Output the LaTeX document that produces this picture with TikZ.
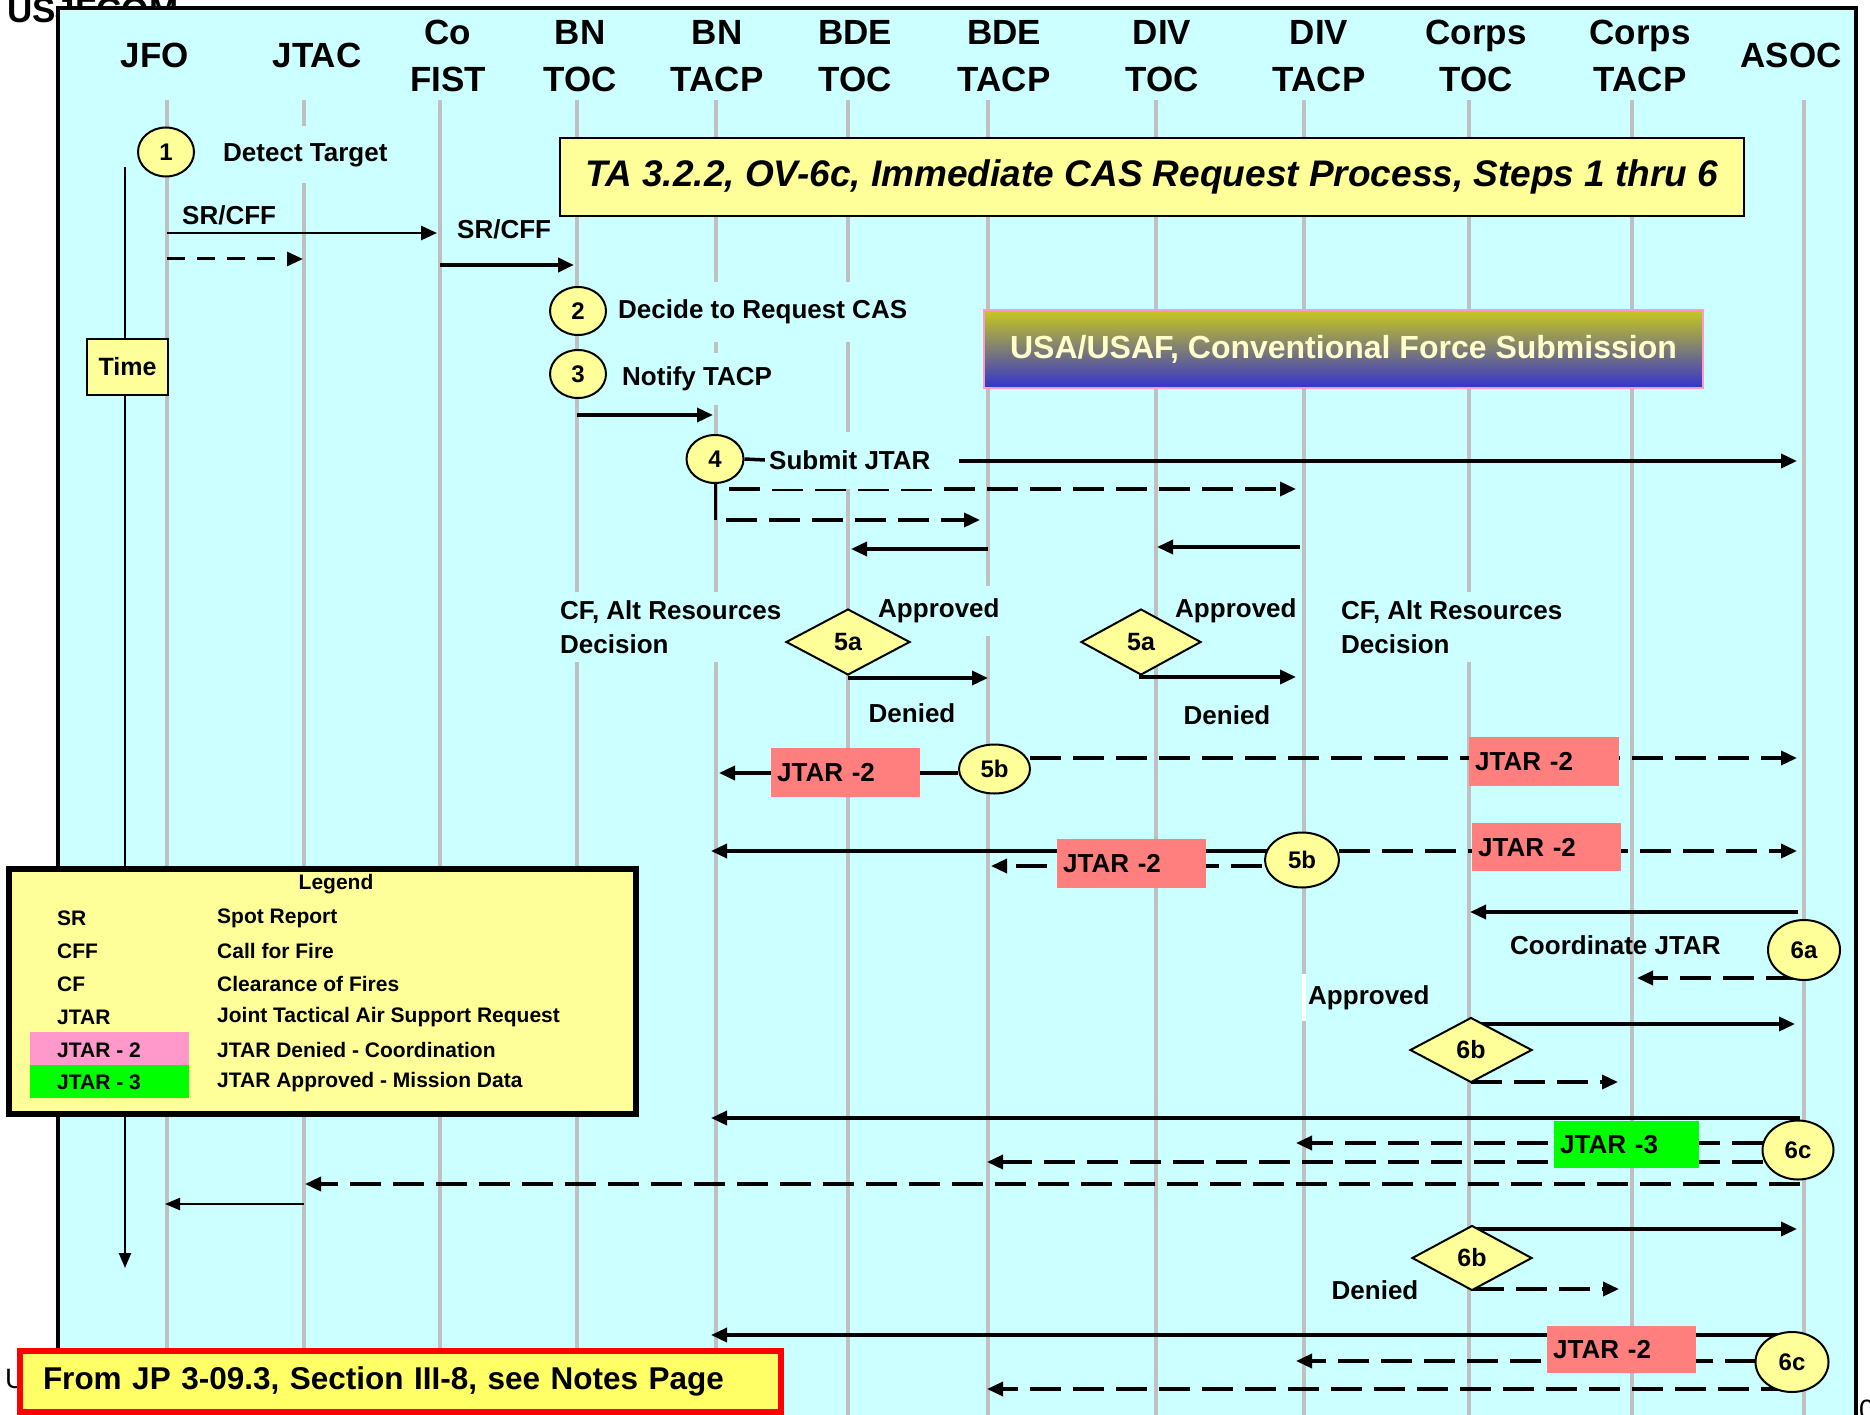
\documentclass[tikz,border=0pt]{standalone}
\usepackage{fontspec}
\setmainfont{Liberation Sans}
\usetikzlibrary{arrows.meta,shapes.geometric}
\definecolor{bgc}{HTML}{CCFFFF}
\definecolor{yel}{HTML}{FFFF99}
\definecolor{salm}{HTML}{FF7F7F}
\definecolor{grn}{HTML}{00FF00}
\definecolor{pnk}{HTML}{FF99CC}
\definecolor{fyel}{HTML}{FFFF66}
\definecolor{lgrey}{HTML}{C0C0C0}
\definecolor{olv}{HTML}{C8C820}
\definecolor{mgr}{HTML}{9898A4}
\definecolor{blu}{HTML}{3333CC}
\definecolor{usatxt}{HTML}{FFFFCC}
\newcommand\fHdr{\fontsize{35}{47}\selectfont\bfseries}
\newcommand\fLbl{\fontsize{26}{34.5}\selectfont\bfseries}
\newcommand\fTitle{\fontsize{37}{44}\selectfont\bfseries\itshape}
\newcommand\fUsa{\fontsize{32}{38}\selectfont\bfseries}
\newcommand\fNum{\fontsize{24}{28}\selectfont\bfseries}
\newcommand\fDia{\fontsize{25}{30}\selectfont\bfseries}
\newcommand\fLeg{\fontsize{21}{25}\selectfont\bfseries}
\newcommand\fFoot{\fontsize{31.5}{38}\selectfont\bfseries}
\newcommand\fTime{\fontsize{25}{30}\selectfont\bfseries}
\newcommand\fTop{\fontsize{35}{42}\selectfont\bfseries}
\newcommand\fFrag{\fontsize{28}{30}\selectfont}
\pgfdeclarelayer{lzero}
\pgfdeclarelayer{lone}
\pgfdeclarelayer{ltwo}
\pgfsetlayers{lzero,lone,ltwo,main}
\begin{document}
\begin{tikzpicture}[x=1pt,y=-1pt,
  lifeline/.style={draw=lgrey, line width=3.5pt},
  conn/.style={line width=3.5pt},
  arr/.style={conn, -{Triangle[length=16pt,width=14pt]}},
  darr/.style={arr, dash pattern=on 31pt off 12pt},
  tarr/.style={line width=2.2pt, -{Triangle[length=15pt,width=12pt]}},
  lbl/.style={inner sep=0pt, font=\fLbl},
  flbl/.style={lbl, fill=bgc, inner xsep=2pt},
  circ/.style={ellipse, draw, line width=2pt, fill=yel, inner sep=0pt, font=\fNum},
  dia/.style={diamond, draw, line width=2pt, fill=yel, inner sep=0pt, font=\fDia},
  jbox/.style={rectangle, inner xsep=6pt, inner ysep=0pt, text width=#1, align=left, font=\fLbl, fill=salm, anchor=north west},
  hdr/.style={inner sep=0pt, font=\fHdr},
  hdr2/.style={hdr, align=center, anchor=north},
  leg/.style={inner sep=0pt, font=\fLeg, anchor=west}
]
\useasboundingbox (0,0) rectangle (1870,1415);

% ---------- bottom layer: stray texts and frame
\begin{pgfonlayer}{lzero}
\node[anchor=base west, inner sep=0pt, font=\fTop] (usj) at (7,23) {USJFCOM};
\node[anchor=base west, inner sep=0pt, font=\fFrag] (ufrag) at (5,1388) {U};
\node[anchor=base west, inner sep=0pt, font=\fFrag] (zfrag) at (1859,1419) {0};
\draw[line width=3.5pt, fill=bgc] (58,8) rectangle (1856,1440);
\end{pgfonlayer}

% ---------- lifelines
\begin{pgfonlayer}{lone}
\foreach \n/\x in {jfo/167, jtac/304, cofist/440, bntoc/577, bntacp/716, bdetoc/848, bdetacp/988, divtoc/1156, divtacp/1304, corpstoc/1469, corpstacp/1632, asoc/1804}{
  \coordinate (L-\n) at (\x,100);
  \draw[lifeline] (L-\n) -- (\x,1440);
}
\draw[white, line width=3.5pt] (1304,974) -- (1304,1021);
\end{pgfonlayer}

% ---------- headers
\node[hdr, anchor=base] (h-jfo) at (155,68) {JFO};
\node[hdr, anchor=base] (h-jtac) at (317,68) {JTAC};
\node[hdr2] (h-cofist) at (448,20) {Co\\FIST};
\node[hdr2] (h-bntoc) at (580,20) {BN\\TOC};
\node[hdr2] (h-bntacp) at (717,20) {BN\\TACP};
\node[hdr2] (h-bdetoc) at (855,20) {BDE\\TOC};
\node[hdr2] (h-bdetacp) at (1004,20) {BDE\\TACP};
\node[hdr2] (h-divtoc) at (1162,20) {DIV\\TOC};
\node[hdr2] (h-divtacp) at (1319,20) {DIV\\TACP};
\node[hdr2] (h-corpstoc) at (1476,20) {Corps\\TOC};
\node[hdr2] (h-corpstacp) at (1640,20) {Corps\\TACP};
\node[hdr, anchor=base] (h-asoc) at (1791,68) {ASOC};

% ---------- title boxes
\node[draw, line width=2pt, fill=yel, minimum width=1184, minimum height=78, inner sep=0pt, font=\fTitle] (title) at (1152,177) {TA 3.2.2, OV-6c, Immediate CAS Request Process, Steps 1 thru 6};
\node[draw=pnk, line width=2.5pt, top color=olv, middle color=mgr, bottom color=blu, minimum width=719, minimum height=78, inner sep=0pt, font=\fUsa, text=usatxt] (usa) at (1343.5,349) {USA/USAF, Conventional Force Submission};

% ---------- time axis
\node[draw, line width=1.5pt, fill=yel, minimum width=81, minimum height=56, inner sep=0pt, font=\fTime] (time) at (127.5,367) {Time};

% ---------- labels
\node[flbl, anchor=west, minimum height=57] (lDetect) at (221,155) {Detect Target};
\node[lbl, anchor=west] (lsr1) at (182,215) {SR/CFF};
\node[lbl, anchor=west] (lsr2) at (457,229) {SR/CFF};
\node[flbl, anchor=west, minimum height=60] (lDecide) at (616,312) {Decide to Request CAS};
\node[flbl, anchor=west, minimum height=52] (lNotify) at (620,379) {Notify TACP};
\node[flbl, anchor=west, inner xsep=4pt, minimum height=57] (sub) at (765,460) {Submit JTAR};
\node[lbl, fill=bgc, align=left, anchor=north west, inner xsep=4pt, inner ysep=8pt] (lcf1) at (556,592) {CF, Alt Resources\\Decision};
\node[flbl, anchor=west, minimum height=50] (lap1) at (876,611) {Approved};
\node[lbl] (lden1) at (912,713) {Denied};
\node[flbl, anchor=west, minimum height=50] (lap2) at (1173,611) {Approved};
\node[lbl] (lden2) at (1227,715) {Denied};
\node[lbl, fill=bgc, align=left, anchor=north west, inner xsep=4pt, inner ysep=8pt] (lcf2) at (1337,592) {CF, Alt Resources\\Decision};
\node[lbl, anchor=west] (lcoord) at (1510,945) {Coordinate JTAR};
\node[lbl, anchor=west] (lap3) at (1308,998) {Approved};
\node[lbl] (lden3) at (1375,1290) {Denied};

% ---------- step markers
\node[circ, minimum width=56, minimum height=49] (c1) at (166,152) {1};
\node[circ, minimum width=56, minimum height=48] (c2) at (578,311) {2};
\node[circ, minimum width=56, minimum height=48] (c3) at (578,374) {3};
\node[circ, minimum width=57, minimum height=48] (c4) at (715,459) {4};
\node[circ, minimum width=71, minimum height=49] (c5b1) at (994.5,769) {5b};
\node[circ, minimum width=74, minimum height=55] (c5b2) at (1302,860) {5b};
\node[circ, minimum width=72, minimum height=60] (c6a) at (1804,950) {6a};
\node[circ, minimum width=71, minimum height=59] (c6c1) at (1798,1150) {6c};
\node[circ, minimum width=73, minimum height=60] (c6c2) at (1792,1362) {6c};
\node[dia, minimum width=124, minimum height=66] (d5a1) at (848,642) {5a};
\node[dia, minimum width=120, minimum height=66] (d5a2) at (1141,642) {5a};
\node[dia, minimum width=122, minimum height=65] (d6b1) at (1471,1050) {6b};
\node[dia, minimum width=120, minimum height=65] (d6b2) at (1472,1258) {6b};

% ---------- JTAR boxes
\node[jbox=137pt, minimum height=49] (j1) at (771,748) {JTAR -2};
\node[jbox=138pt, minimum height=49] (j2) at (1469,737) {JTAR -2};
\node[jbox=137pt, minimum height=49] (j3) at (1057,839) {JTAR -2};
\node[jbox=137pt, minimum height=48] (j4) at (1472,823) {JTAR -2};
\node[jbox=133pt, minimum height=47, fill=grn] (jg) at (1554,1121) {JTAR -3};
\node[jbox=137pt, minimum height=47] (j5) at (1547,1326) {JTAR -2};

% ---------- connector end points
\coordinate (a1s) at (167,233); \coordinate (a1e) at (437,233);
\coordinate (a2s) at (167,259); \coordinate (a2e) at (303,259);
\coordinate (a3s) at (440,265); \coordinate (a3e) at (574,265);
\coordinate (a4s) at (577,415); \coordinate (a4e) at (713,415);
\coordinate (s4) at (959,461); \coordinate (e4) at (1797,461);
\coordinate (v4) at (715,520);
\coordinate (d1s) at (729,489); \coordinate (d1e) at (1296,489);
\coordinate (d2s) at (726,520); \coordinate (d2e) at (980,520);
\coordinate (b1s) at (988,549); \coordinate (b1e) at (851,549);
\coordinate (b2s) at (1300,547); \coordinate (b2e) at (1157,547);
\coordinate (f1s) at (848,678); \coordinate (f1e) at (988,678);
\coordinate (f2s) at (1139,677); \coordinate (f2e) at (1296,677);
\coordinate (g1s) at (958,773); \coordinate (g1e) at (719,773);
\coordinate (g2s) at (1030,758); \coordinate (g2e) at (1797,758);
\coordinate (h1s) at (1267,851); \coordinate (h1e) at (711,851);
\coordinate (h2s) at (1262,866); \coordinate (h2e) at (991,866);
\coordinate (h3s) at (1339,851); \coordinate (h3e) at (1797,851);
\coordinate (k1s) at (1798,912); \coordinate (k1e) at (1470,912);
\coordinate (k2s) at (1797,978); \coordinate (k2e) at (1637,978);
\coordinate (m1s) at (1471,1024); \coordinate (m1e) at (1795,1024);
\coordinate (m2s) at (1471,1082); \coordinate (m2e) at (1618,1082);
\coordinate (n1s) at (1800,1118); \coordinate (n1e) at (711,1118);
\coordinate (n2s) at (1763,1143); \coordinate (n2e) at (1296,1143);
\coordinate (n3s) at (1763,1162); \coordinate (n3e) at (987,1162);
\coordinate (n4s) at (1800,1184); \coordinate (n4e) at (305,1184);
\coordinate (n5s) at (304,1204); \coordinate (n5e) at (165,1204);
\coordinate (p1s) at (1473,1229); \coordinate (p1e) at (1797,1229);
\coordinate (p2s) at (1473,1289); \coordinate (p2e) at (1619,1289);
\coordinate (q1s) at (1792,1335); \coordinate (q1e) at (711,1335);
\coordinate (q2s) at (1756,1361); \coordinate (q2e) at (1296,1361);
\coordinate (q3s) at (1792,1389); \coordinate (q3e) at (987,1389);
\coordinate (t0) at (125,167); \coordinate (t1) at (125,1268);

% ---------- connectors
\begin{pgfonlayer}{ltwo}
\draw[tarr] (t0) -- (t1);
\draw[arr, line width=2.7pt] (a1s) -- (a1e);
\draw[arr, line width=3pt, dash pattern=on 18pt off 12pt] (a2s) -- (a2e);
\draw[arr, line width=4pt] (a3s) -- (a3e);
\draw[arr] (a4s) -- (a4e);
\draw[conn] (c4.east) -- (sub.west);
\draw[arr] (s4) -- (e4);
\draw[conn, line width=3pt] (c4.south) -- (v4);
\draw[darr] (d1s) -- (d1e);
\draw[darr] (d2s) -- (d2e);
\draw[arr] (b1s) -- (b1e);
\draw[arr] (b2s) -- (b2e);
\draw[arr] (f1s) -- (f1e);
\draw[arr] (f2s) -- (f2e);
\draw[arr] (g1s) -- (g1e);
\draw[darr] (g2s) -- (g2e);
\draw[arr] (h1s) -- (h1e);
\draw[darr] (h2s) -- (h2e);
\draw[darr] (h3s) -- (h3e);
\draw[arr] (k1s) -- (k1e);
\draw[darr] (k2s) -- (k2e);
\draw[arr] (m1s) -- (m1e);
\draw[darr] (m2s) -- (m2e);
\draw[arr] (n1s) -- (n1e);
\draw[darr] (n2s) -- (n2e);
\draw[darr] (n3s) -- (n3e);
\draw[darr] (n4s) -- (n4e);
\draw[tarr] (n5s) -- (n5e);
\draw[arr] (p1s) -- (p1e);
\draw[darr] (p2s) -- (p2e);
\draw[arr] (q1s) -- (q1e);
\draw[darr] (q2s) -- (q2e);
\draw[darr] (q3s) -- (q3e);
\end{pgfonlayer}

% ---------- legend
\node[draw, line width=6pt, fill=yel, minimum width=627, minimum height=245, inner sep=0pt] (legend) at (322.5,991.5) {};
\node[inner sep=0pt, font=\fLeg] (legT) at (336,884) {Legend};
\node[fill=pnk, minimum width=159, minimum height=33, inner sep=0pt] (legpk) at (109.5,1048.5) {};
\node[fill=grn, minimum width=159, minimum height=33, inner sep=0pt] (leggn) at (109.5,1081.5) {};
\node[leg] (lk1) at (57,918) {SR};
\node[leg] (lk2) at (57,951) {CFF};
\node[leg] (lk3) at (57,984) {CF};
\node[leg] (lk4) at (57,1017) {JTAR};
\node[leg] (lk5) at (57,1050) {JTAR - 2};
\node[leg] (lk6) at (57,1082) {JTAR - 3};
\node[leg] (lv1) at (217,918) {Spot Report};
\node[leg] (lv2) at (217,951) {Call for Fire};
\node[leg] (lv3) at (217,984) {Clearance of Fires};
\node[leg] (lv4) at (217,1017) {Joint Tactical Air Support Request};
\node[leg] (lv5) at (217,1050) {JTAR Denied - Coordination};
\node[leg] (lv6) at (217,1082) {JTAR Approved - Mission Data};

% ---------- footer
\node[draw=red, line width=6pt, fill=fyel, minimum height=61, inner xsep=23pt, inner ysep=0pt, text width=715pt, align=left, font=\fFoot] (foot) at (400.5,1381.5) {From JP 3-09.3, Section III-8, see Notes Page};
\end{tikzpicture}
\end{document}
